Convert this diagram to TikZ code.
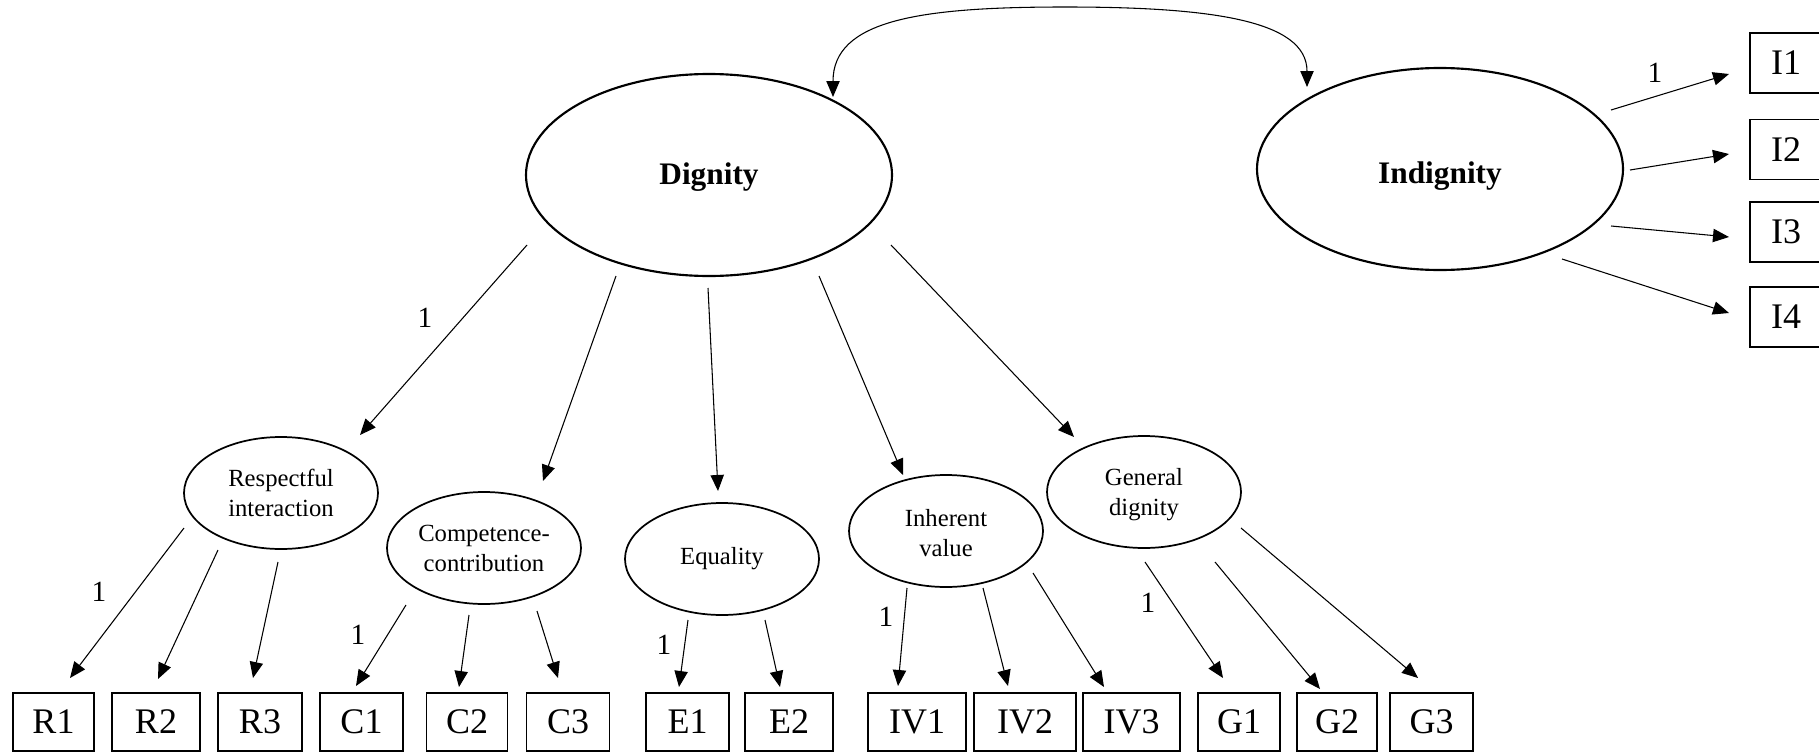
\documentclass[tikz,border=0pt]{standalone}
\usepackage{fontspec}
\setmainfont{Liberation Serif}
\usetikzlibrary{arrows.meta,calc,shapes.geometric}
\newcommand\lnk[6]{\draw[arr] ($(#1)+(#2,#3)$) -- ($(#4)+(#5,#6)$);}
\newcommand\lowr[2]{\raisebox{-#1}[\height][\depth]{#2}}
\begin{document}
\begin{tikzpicture}[x=0.75pt,y=-0.75pt,
  big/.style={ellipse, draw, line width=1.6pt, minimum width=274.5pt, minimum height=151.5pt, inner sep=0pt, font=\fontsize{23.5}{28}\selectfont\bfseries},
  lat/.style={ellipse, draw, line width=1.3pt, minimum width=145.5pt, minimum height=84pt, inner sep=0pt, align=center, font=\fontsize{18.5}{22.5}\selectfont},
  box/.style={rectangle, draw, line width=1.2pt, minimum height=43.5pt, inner sep=0pt, font=\fontsize{27}{32}\selectfont},
  ibox/.style={box, minimum height=45pt, minimum width=54pt},
  lbl/.style={inner sep=0pt, font=\fontsize{22}{26}\selectfont},
  arr/.style={line width=0.8pt, -{Triangle[length=12pt,width=10pt]}}]
\useasboundingbox (0,0) rectangle (1819,753);

% latent variables
\node[big] (dig) at (709,175) {\lowr{1.5pt}{Dignity}};
\node[big] (ind) at (1440,169) {\lowr{5pt}{Indignity}};
\node[lat] (res) at (281,493) {Respectful\\interaction};
\node[lat] (com) at (484,548) {Competence-\\contribution};
\node[lat] (equ) at (722,559) {Equality};
\node[lat] (inh) at (946,531) {\lowr{1.5pt}{Inherent}\\\lowr{1.5pt}{value}};
\node[lat] (gen) at (1144,492) {\lowr{2pt}{General}\\\lowr{2pt}{dignity}};

% indicators
\node[box, minimum width=60.75pt] (R1) at (53.5,722) {R1};
\node[box, minimum width=66pt] (R2) at (156,722) {R2};
\node[box, minimum width=63pt] (R3) at (260,722) {R3};
\node[box, minimum width=62.25pt] (C1) at (361.5,722) {C1};
\node[box, minimum width=60.75pt] (C2) at (467,722) {C2};
\node[box, minimum width=62.25pt] (C3) at (568,722) {C3};
\node[box, minimum width=62.25pt] (E1) at (687.5,722) {E1};
\node[box, minimum width=66pt] (E2) at (789,722) {E2};
\node[box, minimum width=73.5pt] (IV1) at (917,722) {IV1};
\node[box, minimum width=76.5pt] (IV2) at (1025,722) {IV2};
\node[box, minimum width=72.75pt] (IV3) at (1131.5,722) {IV3};
\node[box, minimum width=61.5pt] (G1) at (1239,722) {G1};
\node[box, minimum width=60pt] (G2) at (1337,722) {G2};
\node[box, minimum width=62.25pt] (G3) at (1431.5,722) {G3};
\node[ibox] (I1) at (1786,63) {I1};
\node[ibox] (I2) at (1786,149.5) {I2};
\node[ibox] (I3) at (1786,232) {I3};
\node[ibox] (I4) at (1786,317) {I4};

% loadings labels
\node[lbl] (l0) at (425,318) {1};
\node[lbl] (l1) at (99,592) {1};
\node[lbl] (l2) at (358,635) {1};
\node[lbl] (l3) at (664,645) {1};
\node[lbl] (l4) at (886,617) {1};
\node[lbl] (l5) at (1148,603) {1};
\node[lbl] (l6) at (1655,73) {1};

% dignity -> dimensions
\lnk{dig}{-182}{70}{res}{79}{-58}
\lnk{dig}{-93}{101}{com}{59}{-67}
\lnk{dig}{-1}{113}{equ}{-4}{-68}
\lnk{dig}{110}{101}{inh}{-43}{-56}
\lnk{dig}{182}{70}{gen}{-70}{-55}

% dimensions -> items
\lnk{res}{-97}{35}{R1}{16.5}{-44}
\lnk{res}{-63}{57}{R2}{2}{-43}
\lnk{res}{-3}{69}{R3}{-7}{-44}
\lnk{com}{-78}{57}{C1}{-5.5}{-36}
\lnk{com}{-15}{67}{C2}{-8}{-35}
\lnk{com}{53}{63}{C3}{-10}{-44}
\lnk{equ}{-34}{61}{E1}{-8.5}{-35}
\lnk{equ}{43}{61}{E2}{-9}{-35}
\lnk{inh}{-39}{57}{IV1}{-19}{-36}
\lnk{inh}{37}{57}{IV2}{-17}{-36}
\lnk{inh}{87}{42}{IV3}{-27.5}{-35}
\lnk{gen}{1}{70}{G1}{-16}{-44}
\lnk{gen}{71}{70}{G2}{-17}{-33}
\lnk{gen}{97}{36}{G3}{-13.5}{-44}

% indignity -> items
\lnk{ind}{171}{-59}{I1}{-57}{11}
\lnk{ind}{190}{1}{I2}{-57}{4.5}
\lnk{ind}{171}{57}{I3}{-57}{5}
\lnk{ind}{122}{90}{I4}{-57}{-4}

% covariance
\coordinate (apex) at (1065,7);
\draw[line width=0.8pt, {Triangle[length=12pt,width=10pt]}-{Triangle[length=12pt,width=10pt]}]
  ($(dig)+(124,-78)$) .. controls (833,20) and (920,7) .. (apex)
  .. controls (1210,7) and (1307,20) .. ($(ind)+(-133,-82)$);
\end{tikzpicture}
\end{document}
